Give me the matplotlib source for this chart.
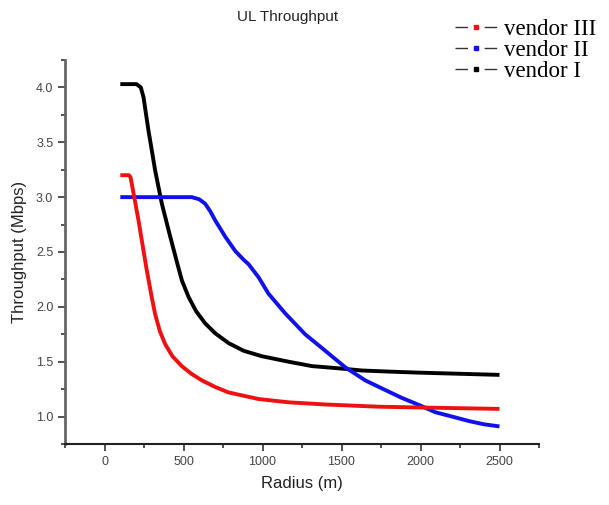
import matplotlib

matplotlib.use("Agg")
import matplotlib.pyplot as plt
from matplotlib.lines import Line2D
from matplotlib.ticker import MultipleLocator

# values
radius_v1 = [100, 203, 230, 247, 278, 321, 363, 416, 458, 490, 532, 580, 637, 700, 785, 880,
             996, 1165, 1313, 1480, 1629, 1800, 2000, 2250, 2500]
thr_v1 = [4.03, 4.03, 4.00, 3.91, 3.61, 3.24, 2.94, 2.64, 2.41, 2.24, 2.09, 1.96, 1.85, 1.76,
          1.67, 1.60, 1.55, 1.50, 1.46, 1.44, 1.42, 1.41, 1.40, 1.39, 1.38]

radius_v2 = [100, 553, 600, 637, 670, 700, 764, 827, 880, 911, 975, 1038, 1144, 1270, 1397,
             1523, 1650, 1780, 1882, 2000, 2093, 2200, 2304, 2400, 2500]
thr_v2 = [3.00, 3.00, 2.98, 2.94, 2.87, 2.79, 2.64, 2.51, 2.43, 2.39, 2.27, 2.12, 1.94, 1.75,
          1.60, 1.45, 1.33, 1.24, 1.17, 1.10, 1.04, 1.00, 0.96, 0.93, 0.91]

radius_v3 = [100, 155, 165, 173, 215, 247, 268, 300, 321, 350, 384, 430, 489, 550, 616, 700,
             785, 880, 975, 1165, 1400, 1734, 2100, 2500]
thr_v3 = [3.20, 3.20, 3.18, 3.12, 2.79, 2.51, 2.33, 2.08, 1.93, 1.78, 1.66, 1.55, 1.46, 1.39,
          1.33, 1.27, 1.22, 1.19, 1.16, 1.13, 1.11, 1.09, 1.08, 1.07]

vendor_names = ["vendor III", "vendor II", "vendor I"]
vendor_colors = ["#ee1111", "#1111ee", "#000000"]

plt.rcParams["font.family"] = ["Liberation Sans", "DejaVu Sans"]

fig = plt.figure(figsize=(6.09, 5.05), dpi=100)
ax = fig.add_axes([65 / 609, 1 - 444 / 505, (539 - 65) / 609, (444 - 60) / 505])

line_kw = dict(lw=2.8, solid_joinstyle="round", solid_capstyle="butt")
ax.plot(radius_v1, thr_v1, color=vendor_colors[2], **line_kw)
ax.plot(radius_v2, thr_v2, color=vendor_colors[1], **line_kw)
ax.plot(radius_v3, thr_v3, color=vendor_colors[0], **line_kw)

ax.set_xlim(-250, 2750)
ax.set_ylim(0.75, 4.25)
ax.xaxis.set_major_locator(MultipleLocator(500))
ax.xaxis.set_minor_locator(MultipleLocator(250))
ax.yaxis.set_major_locator(MultipleLocator(0.5))
ax.yaxis.set_minor_locator(MultipleLocator(0.25))
ax.yaxis.set_major_formatter(plt.FormatStrFormatter("%.1f"))

for side in ["top", "right"]:
    ax.spines[side].set_visible(False)
ax.spines["left"].set_color("#666666")
ax.spines["left"].set_linewidth(2)
ax.spines["bottom"].set_color("#222222")
ax.spines["bottom"].set_linewidth(1.5)

ax.tick_params(which="major", direction="out", length=5, width=1.2, color="#333333",
               labelsize=9, labelcolor="#444444")
ax.tick_params(which="minor", direction="out", length=3, width=1.2, color="#333333")

ax.set_xlabel("Radius (m)", fontsize=12, color="#222222", labelpad=6)
ax.set_ylabel("Throughput (Mbps)", fontsize=12, color="#222222", labelpad=6)
fig.text(288 / 609, 1 - 17 / 505, "UL Throughput", ha="center", va="center",
         fontsize=11, color="#222222")

handles = [
    Line2D([], [], color="#333333", lw=1, ls=(0, (9, 12)), marker="s", markersize=3,
           markerfacecolor=c, markeredgecolor=c)
    for c in vendor_colors
]
fig.legend(handles, vendor_names, loc="upper left", bbox_to_anchor=(455 / 609, 1 - 19 / 505),
           frameon=False, prop={"family": "Liberation Serif", "size": 16.5},
           handlelength=1.85, handletextpad=0.3, labelspacing=0.0, borderpad=0,
           borderaxespad=0)

fig.savefig("out.png", dpi=100)
